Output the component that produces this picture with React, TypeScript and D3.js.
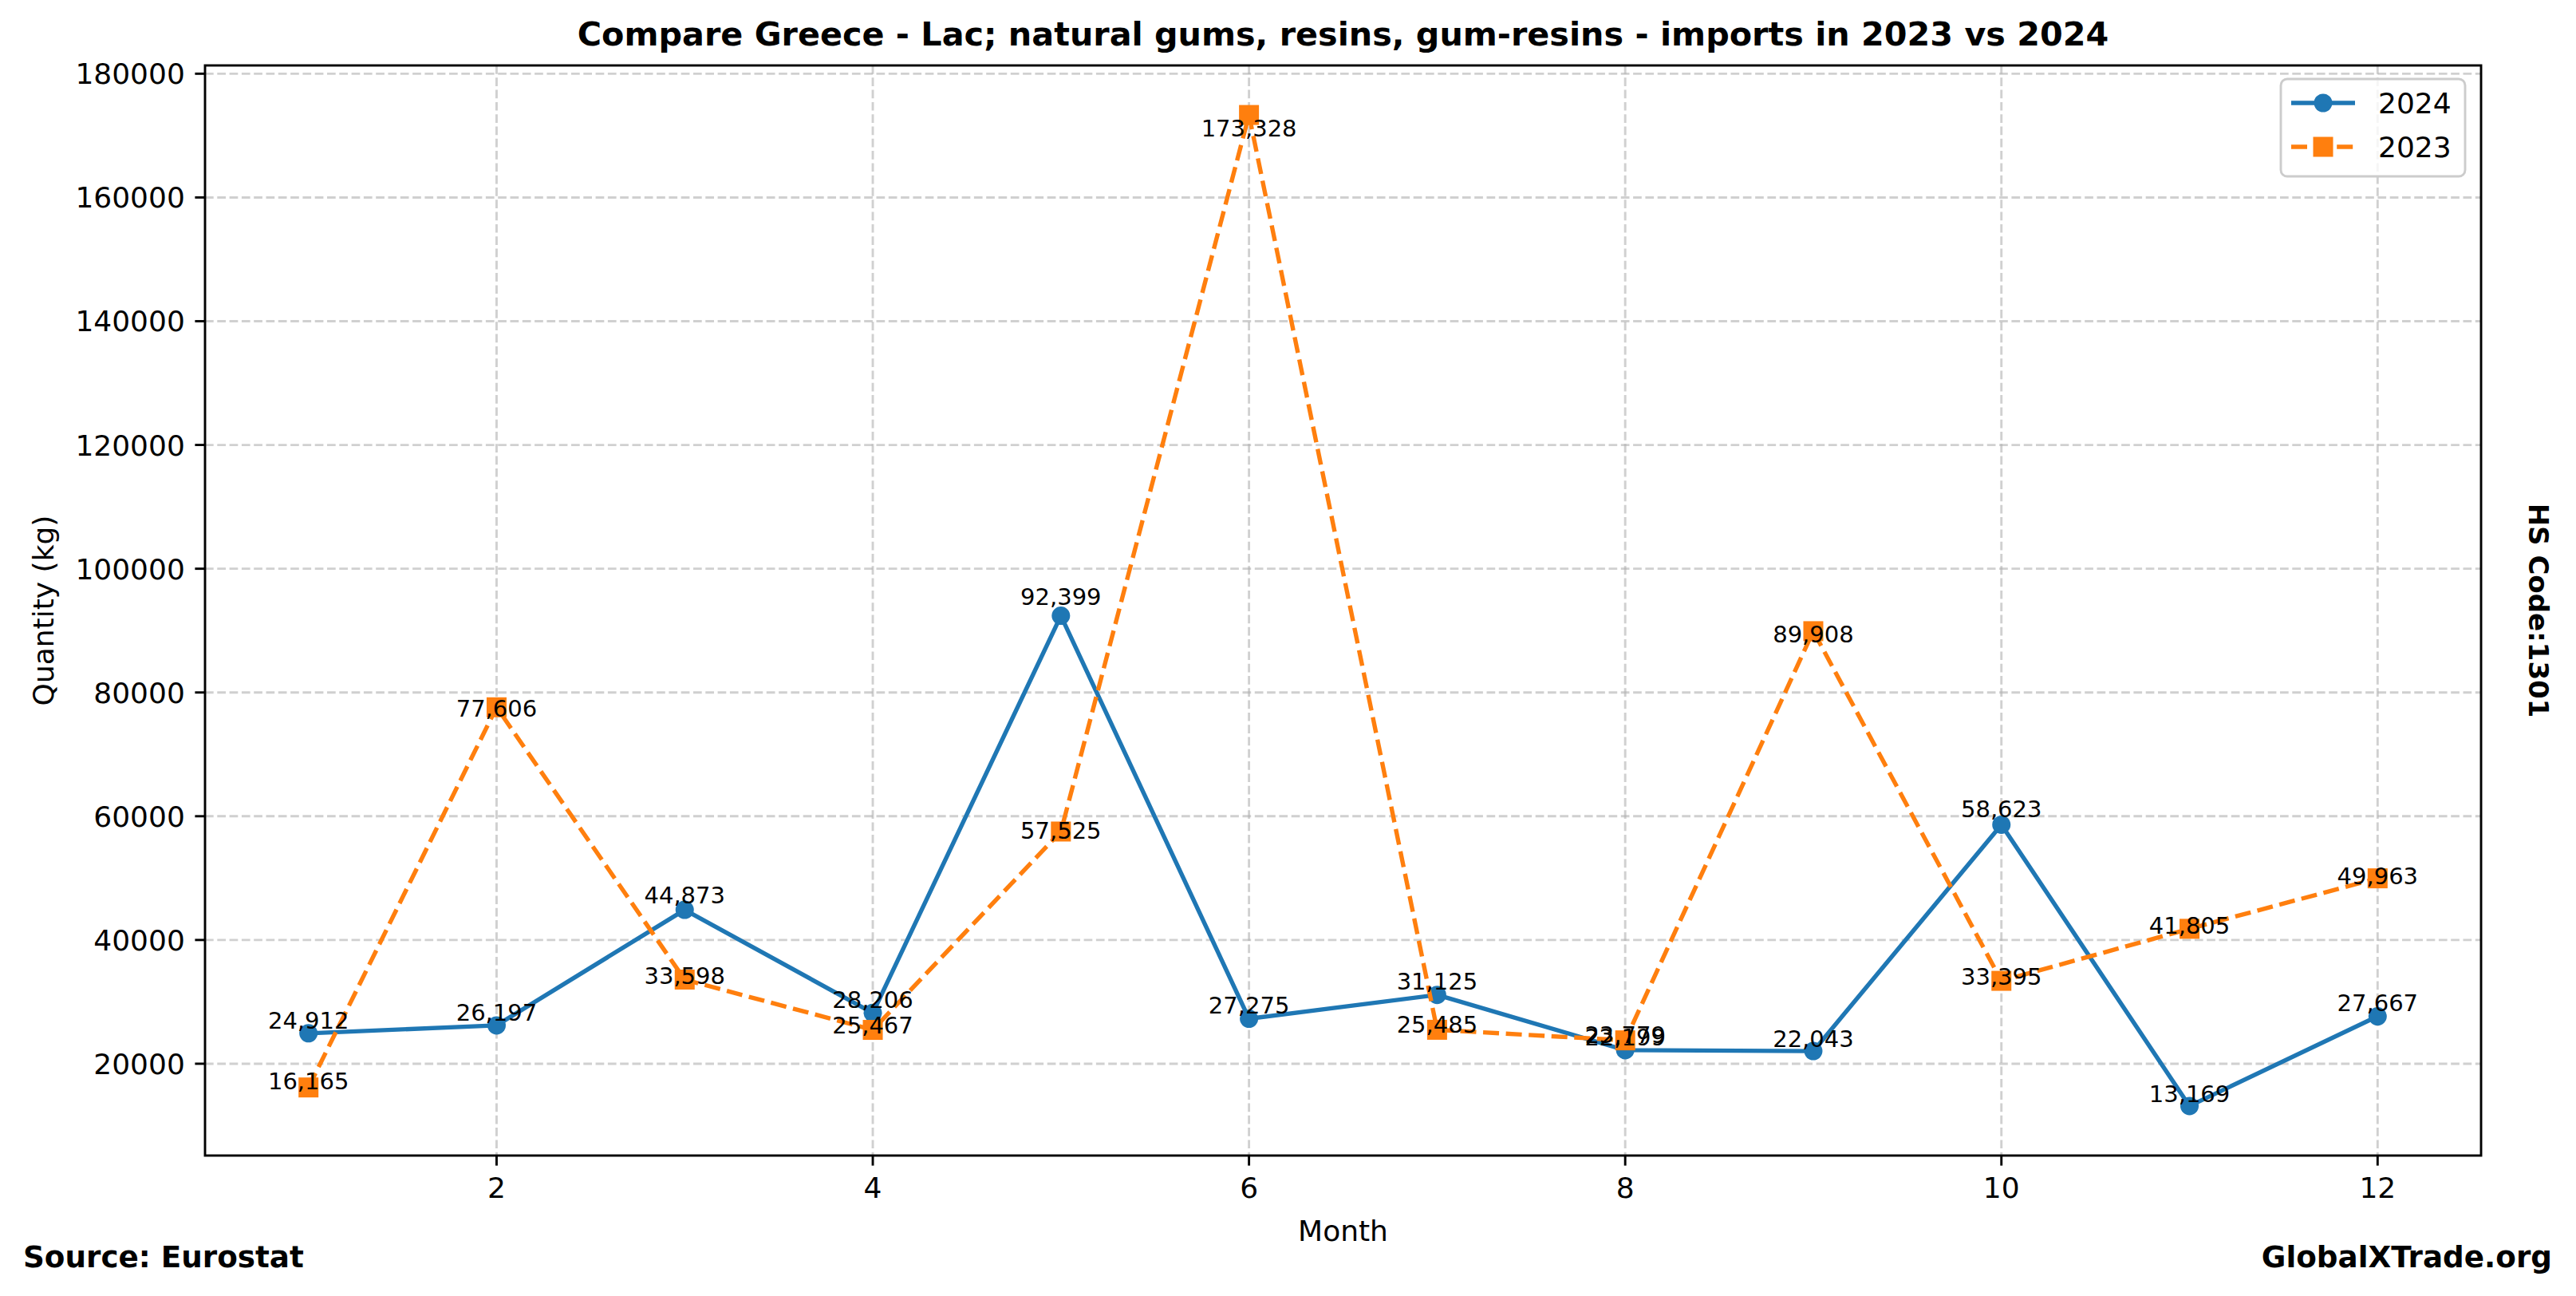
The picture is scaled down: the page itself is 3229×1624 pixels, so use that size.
import React from "react";
import { scaleLinear, line as d3Line, extent, format } from "d3";

const months = [1, 2, 3, 4, 5, 6, 7, 8, 9, 10, 11, 12];
const imports2024 = [24912, 26197, 44873, 28206, 92399, 27275, 31125, 22199, 22043, 58623, 13169, 27667];
const imports2023 = [16165, 77606, 33598, 25467, 57525, 173328, 25485, 23779, 89908, 33395, 41805, 49963];
const xTicks = [2, 4, 6, 8, 10, 12];
const yTicks = [20000, 40000, 60000, 80000, 100000, 120000, 140000, 160000, 180000];

const title = "Compare Greece - Lac; natural gums, resins, gum-resins - imports in 2023 vs 2024";
const BLUE = "#1f77b4";
const ORANGE = "#ff7f0e";
const FONT = "DejaVu Sans, sans-serif";

export default function App() {
  const W = 3229;
  const H = 1624;
  const plot = { left: 257, right: 3110, top: 82, bottom: 1448 };

  const [x0, x1] = extent(months) as [number, number];
  const xPad = (x1 - x0) * 0.05;
  const xScale = scaleLinear().domain([x0 - xPad, x1 + xPad]).range([plot.left, plot.right]);

  const all = [...imports2024, ...imports2023];
  const [y0, y1] = extent(all) as [number, number];
  const yPad = (y1 - y0) * 0.05;
  const yScale = scaleLinear().domain([y0 - yPad, y1 + yPad]).range([plot.bottom, plot.top]);

  const lineGen = d3Line<number>()
    .x((_, i) => xScale(months[i]))
    .y((d) => yScale(d));

  const fmt = format(",");
  const tickLen = 12.6;
  const lw = 5.4;

  return (
    <svg
      width={W}
      height={H}
      style={{ position: "absolute", left: 0, top: 0, background: "#fff" }}
      fontFamily={FONT}
    >
      <rect x={0} y={0} width={W} height={H} fill="#fff" />

      {/* grid */}
      {xTicks.map((t) => (
        <line
          key={`gx-${t}`}
          x1={xScale(t)}
          x2={xScale(t)}
          y1={plot.top}
          y2={plot.bottom}
          stroke="#b0b0b0"
          strokeOpacity={0.6}
          strokeWidth={2.9}
          strokeDasharray="10.7 4.6"
        />
      ))}
      {yTicks.map((t) => (
        <line
          key={`gy-${t}`}
          x1={plot.left}
          x2={plot.right}
          y1={yScale(t)}
          y2={yScale(t)}
          stroke="#b0b0b0"
          strokeOpacity={0.6}
          strokeWidth={2.9}
          strokeDasharray="10.7 4.6"
        />
      ))}

      {/* 2024 */}
      <path d={lineGen(imports2024) ?? ""} fill="none" stroke={BLUE} strokeWidth={lw} strokeLinejoin="round" />
      {imports2024.map((v, i) => (
        <circle key={`c-${i}`} cx={xScale(months[i])} cy={yScale(v)} r={11.5} fill={BLUE} />
      ))}

      {/* 2023 */}
      <path
        d={lineGen(imports2023) ?? ""}
        fill="none"
        stroke={ORANGE}
        strokeWidth={lw}
        strokeDasharray="20 8.6"
      />
      {imports2023.map((v, i) => (
        <rect
          key={`s-${i}`}
          x={xScale(months[i]) - 12.5}
          y={yScale(v) - 12.5}
          width={25}
          height={25}
          fill={ORANGE}
        />
      ))}

      {/* value labels */}
      {imports2024.map((v, i) => (
        <text
          key={`l24-${i}`}
          x={xScale(months[i])}
          y={yScale(v * 1.015) - 3}
          textAnchor="middle"
          fontSize={29}
        >
          {fmt(v)}
        </text>
      ))}
      {imports2023.map((v, i) => (
        <text
          key={`l23-${i}`}
          x={xScale(months[i])}
          y={yScale(v * 0.98)}
          textAnchor="middle"
          fontSize={29}
        >
          {fmt(v)}
        </text>
      ))}

      {/* spines */}
      <rect
        x={plot.left}
        y={plot.top}
        width={plot.right - plot.left}
        height={plot.bottom - plot.top}
        fill="none"
        stroke="#000"
        strokeWidth={2.9}
      />

      {/* x axis */}
      {xTicks.map((t) => (
        <g key={`xt-${t}`} transform={`translate(${xScale(t)},${plot.bottom})`}>
          <line y1={0} y2={tickLen} stroke="#000" strokeWidth={2.9} />
          <text y={tickLen + 12.6 + 28} textAnchor="middle" fontSize={36}>
            {t}
          </text>
        </g>
      ))}
      {/* y axis */}
      {yTicks.map((t) => (
        <g key={`yt-${t}`} transform={`translate(${plot.left},${yScale(t)})`}>
          <line x1={-tickLen} x2={0} stroke="#000" strokeWidth={2.9} />
          <text x={-tickLen - 12.6} dy="0.36em" textAnchor="end" fontSize={36}>
            {t}
          </text>
        </g>
      ))}

      {/* labels */}
      <text x={(plot.left + plot.right) / 2} y={57} textAnchor="middle" fontSize={41.3} fontWeight="bold">
        {title}
      </text>
      <text x={(plot.left + plot.right) / 2} y={1555} textAnchor="middle" fontSize={36}>
        Month
      </text>
      <text
        transform={`translate(67,${(plot.top + plot.bottom) / 2}) rotate(-90)`}
        textAnchor="middle"
        fontSize={36}
      >
        Quantity (kg)
      </text>
      <text
        transform={`translate(3182,${(plot.top + plot.bottom) / 2}) rotate(90)`}
        textAnchor="middle"
        dy="0.36em"
        fontSize={34}
        fontWeight="bold"
      >
        HS Code:1301
      </text>
      <text x={29} y={1588} fontSize={37.3} fontWeight="bold">
        Source: Eurostat
      </text>
      <text x={3199} y={1588} fontSize={37.3} fontWeight="bold" textAnchor="end">
        GlobalXTrade.org
      </text>

      {/* legend */}
      <g>
        <rect
          x={2859}
          y={99}
          width={231}
          height={122}
          rx={8}
          fill="#fff"
          fillOpacity={0.8}
          stroke="#cccccc"
          strokeWidth={2.9}
        />
        <line x1={2872} x2={2952} y1={129} y2={129} stroke={BLUE} strokeWidth={lw} />
        <circle cx={2912} cy={129} r={11.5} fill={BLUE} />
        <text x={2981} y={129} dy="0.36em" fontSize={36}>
          2024
        </text>
        <line
          x1={2872}
          x2={2952}
          y1={184}
          y2={184}
          stroke={ORANGE}
          strokeWidth={lw}
          strokeDasharray="20 8.6"
        />
        <rect x={2899.5} y={171.5} width={25} height={25} fill={ORANGE} />
        <text x={2981} y={184} dy="0.36em" fontSize={36}>
          2023
        </text>
      </g>
    </svg>
  );
}
